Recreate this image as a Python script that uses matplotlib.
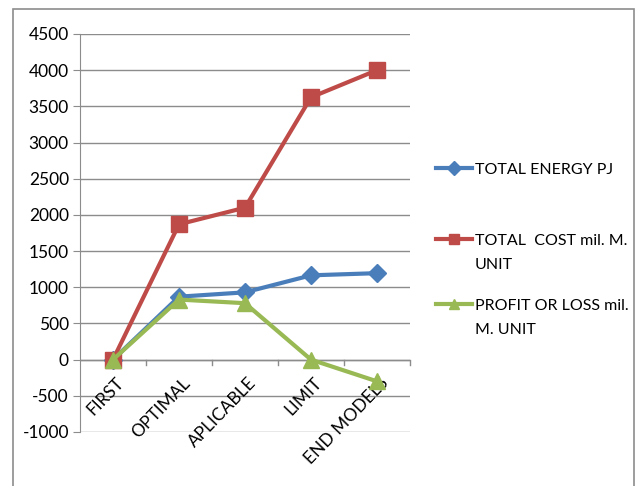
import matplotlib
matplotlib.use("Agg")
import matplotlib.pyplot as plt
from matplotlib.patches import Rectangle
from matplotlib.lines import Line2D
from matplotlib import font_manager

avail = {f.name for f in font_manager.fontManager.ttflist}
fam = [f for f in ["Lato", "DejaVu Sans"] if f in avail]
plt.rcParams['font.family'] = fam

categories = ["FIRST", "OPTIMAL", "APLICABLE", "LIMIT", "END MODELS"]
energy = [0, 870, 930, 1165, 1195]
cost = [0, 1870, 2100, 3625, 4000]
profit = [0, 830, 780, 0, -300]
series_labels = ["TOTAL ENERGY PJ", "TOTAL  COST mil. M.\nUNIT", "PROFIT OR LOSS mil.\nM. UNIT"]
yticks = list(range(-1000, 4501, 500))

colors = ["#4A7EBB", "#BE4B48", "#98B954"]
markers = ["D", "s", "^"]
msizes = [9, 11, 12]

W, H = 639, 486
fig = plt.figure(figsize=(W / 100, H / 100), dpi=100)
fig.patches.append(Rectangle((13 / W, -0.1), (634 - 13) / W, 1.1 - 9 / H,
                             transform=fig.transFigure, fill=False,
                             edgecolor="#8c8c8c", linewidth=1.2))
ax = fig.add_axes([80 / W, 1 - 432 / H, (410 - 80) / W, (432 - 34) / H])

x = list(range(len(categories)))
for vals, c, m, ms, z in zip([energy, cost, profit], colors, markers, msizes, [3, 3, 4]):
    ax.plot(x, vals, color=c, lw=3, marker=m, ms=ms, zorder=z)

ax.set_xlim(-0.5, len(categories) - 0.5)
ax.set_ylim(-1000, 4500)
ax.set_yticks(yticks)
ax.set_yticklabels([str(v) for v in yticks], fontsize=12.5)
ax.yaxis.grid(True, color="#8c8c8c", lw=1)
ax.set_axisbelow(True)
for s in ["top", "right", "bottom"]:
    ax.spines[s].set_visible(False)
ax.spines["left"].set_color("#8c8c8c")
ax.tick_params(axis="y", length=5, color="#8c8c8c", pad=3)
ax.tick_params(axis="x", length=0)
ax.set_xticks(x)
ax.set_xticklabels([])
ax.axhline(0, color="#8c8c8c", lw=1, zorder=1)
for b in [i + 0.5 for i in range(len(categories))]:
    ax.plot([b, b], [0, -80], color="#8c8c8c", lw=1, zorder=1, clip_on=False)
for i, c in enumerate(categories):
    ax.text(i + 0.04, -210, c, rotation=46, ha="right", va="top",
            rotation_mode="anchor", fontsize=12.5)

# legend drawn manually (handles aligned with first text line)
leg_y = [168, 239, 304]
for lab, c, m, yy in zip(series_labels, colors, markers, leg_y):
    fy = 1 - yy / H
    fig.add_artist(Line2D([436 / W, 472 / W], [fy, fy], color=c, lw=3,
                          transform=fig.transFigure))
    fig.add_artist(Line2D([454 / W], [fy], color=c, marker=m, ms=7,
                          transform=fig.transFigure))
    fig.text(475 / W, fy + 5 / H, lab, ha="left", va="top", fontsize=11.5,
             linespacing=1.95, transform=fig.transFigure)

fig.savefig("out.png", dpi=100)
